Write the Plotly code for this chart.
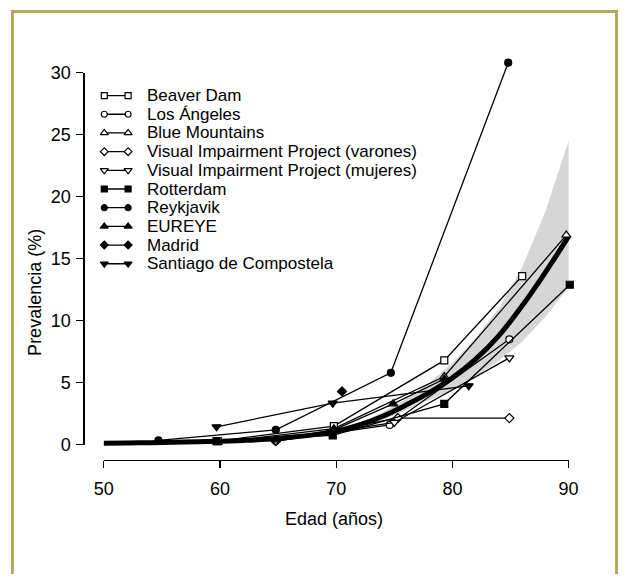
import plotly.graph_objects as go

# ---------------- data ----------------
series_names = ["Beaver Dam", "Los Ángeles", "Blue Mountains",
                "Visual Impairment Project (varones)", "Visual Impairment Project (mujeres)",
                "Rotterdam", "Reykjavik", "EUREYE", "Madrid", "Santiago de Compostela"]
series_symbols = ["square", "circle", "triangle-up", "diamond", "triangle-down",
                  "square", "circle", "triangle-up", "diamond", "triangle-down"]
series_open = [True, True, True, True, True, False, False, False, False, False]

beaver_age = [59.8, 69.8, 79.3, 86.0]
beaver_val = [0.3, 1.5, 6.8, 13.6]
la_age = [64.8, 74.6, 84.9]
la_val = [0.3, 1.6, 8.5]
blue_age = [59.8, 69.8, 79.3, 89.8]
blue_val = [0.2, 1.3, 5.5, 16.9]
vipm_age = [64.8, 75.3, 84.9]
vipm_val = [0.3, 2.15, 2.15]
vipf_age = [64.8, 75.0, 84.9]
vipf_val = [0.3, 1.8, 7.0]
rott_age = [59.7, 69.7, 79.3, 90.1]
rott_val = [0.3, 0.75, 3.3, 12.9]
reyk_age = [54.7, 64.8, 74.7, 84.8]
reyk_val = [0.35, 1.2, 5.8, 30.8]
eur_age = [64.8, 69.8, 74.9, 79.3]
eur_val = [0.4, 1.2, 3.3, 5.3]
mad_age = [70.5]
mad_val = [4.3]
sant_age = [59.7, 69.7, 81.4]
sant_val = [1.45, 3.35, 4.75]

series_ages = [beaver_age, la_age, blue_age, vipm_age, vipf_age,
               rott_age, reyk_age, eur_age, mad_age, sant_age]
series_vals = [beaver_val, la_val, blue_val, vipm_val, vipf_val,
               rott_val, reyk_val, eur_val, mad_val, sant_val]

fit_age = [50, 52, 54, 56, 58, 60, 62, 64, 66, 68, 70, 72, 74, 76, 78, 80, 82, 84, 86, 88, 90]
fit_val = [0.12, 0.14, 0.17, 0.2, 0.24, 0.29, 0.35, 0.44, 0.6, 0.8, 1.1, 1.6, 2.3, 3.2,
           4.2, 5.4, 6.9, 8.8, 11.2, 13.9, 16.8]

band_age = [64, 66, 68, 70, 72, 74, 76, 78, 80, 82, 84, 86, 88, 90]
band_upper = [0.5, 0.68, 0.92, 1.25, 1.8, 2.6, 3.7, 5.0, 6.6, 8.6, 11.0, 14.3, 18.8, 24.5]
band_lower = [0.38, 0.52, 0.7, 0.95, 1.4, 2.0, 2.8, 3.6, 4.4, 5.5, 6.8, 8.3, 10.3, 12.7]

x_ticks = [50, 60, 70, 80, 90]
y_ticks = [0, 5, 10, 15, 20, 25, 30]
x_title = "Edad (años)"
y_title = "Prevalencia (%)"

# ---------------- layout geometry (page pixels) ----------------
W, H = 628, 584
FONT = "Liberation Sans, Arial, sans-serif"
FS = 18
FS_LEG = 17
x50, x90 = 96.9, 577.0
y0, y30 = 450.2, 64.8
pxu_x = (x90 - x50) / 40.0
pxu_y = (y0 - y30) / 30.0


def fx(px):
    return px / W


def fy(py):
    return (H - py) / H


xr = [49, 91]
yr = [-1, 32]
main_xdom = [fx(x50 - (50 - xr[0]) * pxu_x), fx(x90 + (xr[1] - 90) * pxu_x)]
main_ydom = [fy(y0 + (0 - yr[0]) * pxu_y), fy(y30 - (yr[1] - 30) * pxu_y)]

fig = go.Figure()

# confidence band
fig.add_trace(go.Scatter(
    x=band_age + band_age[::-1], y=band_upper + band_lower[::-1],
    fill="toself", fillcolor="#d6d6d6", line=dict(width=0), mode="lines",
    hoverinfo="skip", showlegend=False, xaxis="x", yaxis="y"))

# fitted curve
fig.add_trace(go.Scatter(
    x=fit_age, y=fit_val, mode="lines", line=dict(color="black", width=5, shape="spline"),
    showlegend=False, xaxis="x", yaxis="y"))

for name, sym, op, ages, vals in zip(series_names, series_symbols, series_open,
                                     series_ages, series_vals):
    fig.add_trace(go.Scatter(
        x=ages, y=vals, mode="lines+markers", name=name,
        line=dict(color="black", width=1.3),
        marker=dict(symbol=sym, size=8 if "triangle" in sym else 7,
                    color="white" if op else "black",
                    line=dict(color="black", width=1.2)),
        cliponaxis=False, showlegend=False, xaxis="x", yaxis="y"))

# legend built as its own small subplot
n = len(series_names)
row_h = 19.35
row0 = 88.6
leg_top = row0 - row_h / 2
leg_bot = leg_top + n * row_h
for i, (name, sym, op) in enumerate(zip(series_names, series_symbols, series_open)):
    fig.add_trace(go.Scatter(
        x=[0, 1], y=[i, i], mode="lines+markers",
        line=dict(color="black", width=1.3),
        marker=dict(symbol=sym, size=7 if "triangle" in sym else 6,
                    color="white" if op else "black",
                    line=dict(color="black", width=1.2)),
        cliponaxis=False, showlegend=False, hoverinfo="skip", xaxis="x3", yaxis="y3"))
    fig.add_annotation(x=fx(140.5), y=fy(row0 + i * row_h), xref="paper", yref="paper",
                       text=name, showarrow=False, xanchor="left", yanchor="middle",
                       borderpad=0,
                       font=dict(family=FONT, size=FS_LEG, color="black"))

# axis-drawing dummy trace
fig.add_trace(go.Scatter(x=[50], y=[0], mode="markers", marker=dict(opacity=0),
                         hoverinfo="skip", showlegend=False, xaxis="x2", yaxis="y2"))

fig.update_layout(
    width=W, height=H,
    margin=dict(l=0, r=0, t=0, b=0),
    paper_bgcolor="white", plot_bgcolor="rgba(0,0,0,0)",
    font=dict(family=FONT, size=FS, color="black"),
    showlegend=False,
    xaxis=dict(domain=main_xdom, range=xr, showline=False, showgrid=False,
               zeroline=False, showticklabels=False, ticks="", anchor="y"),
    yaxis=dict(domain=main_ydom, range=yr, showline=False, showgrid=False,
               zeroline=False, showticklabels=False, ticks="", anchor="x"),
    xaxis2=dict(domain=[fx(x50), fx(x90)], range=[50, 90], anchor="free",
                position=fy(465.8), showline=True, linecolor="black",
                linewidth=1.2, ticks="outside", ticklen=7, tickwidth=1.2, tickcolor="black",
                tickvals=x_ticks, showgrid=False, zeroline=False,
                tickfont=dict(family=FONT, size=FS), ticklabelstandoff=5),
    yaxis2=dict(domain=[fy(y0), fy(y30)], range=[0, 30], anchor="free",
                position=fx(75.85), side="left", showline=True, linecolor="black",
                linewidth=1.2, ticks="outside", ticklen=7, tickwidth=1.2, tickcolor="black",
                tickvals=y_ticks, showgrid=False, zeroline=False,
                tickfont=dict(family=FONT, size=FS), ticklabelstandoff=2),
    xaxis3=dict(domain=[fx(97.4), fx(122.0)], range=[0, 1], visible=False, anchor="y3"),
    yaxis3=dict(domain=[fy(leg_bot), fy(leg_top)], range=[n - 0.5, -0.5], visible=False,
                anchor="x3"),
)

fig.add_annotation(x=fx(334.5), y=fy(526.9), xref="paper", yref="paper",
                   text=x_title, showarrow=False, xanchor="center", yanchor="middle",
                   font=dict(family=FONT, size=FS))
fig.add_annotation(x=fx(25.0), y=fy(292.7), xref="paper", yref="paper",
                   text=y_title, showarrow=False, textangle=-90,
                   xanchor="center", yanchor="middle",
                   font=dict(family=FONT, size=FS))

# outer frame: left, top and right edges only, kept inside the page
fl, fr_, ft, fb = fx(2.5), fx(626.5), fy(1.5), fy(H)
fig.add_shape(type="path", xref="paper", yref="paper",
              path=f"M {fl},{fb} L {fl},{ft} L {fr_},{ft} L {fr_},{fb}",
              line=dict(color="#b2aa5e", width=3), layer="below")

post = (
    "document.documentElement.style.margin='0';"
    "document.documentElement.style.overflow='hidden';"
    "document.body.style.margin='0';document.body.style.padding='0';"
    "document.body.style.overflow='hidden';"
)
fig.write_html("out.html", config={"displayModeBar": False, "staticPlot": True},
               post_script=post)
